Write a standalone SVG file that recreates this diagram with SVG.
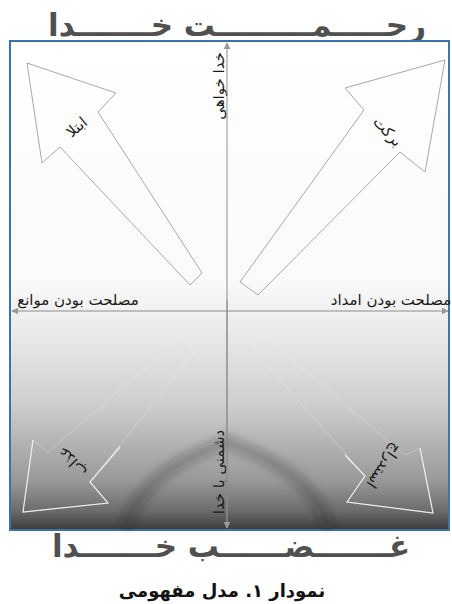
<svg xmlns="http://www.w3.org/2000/svg" width="452" height="604" viewBox="0 0 452 604">
<defs>
<linearGradient id="bg" x1="0" y1="0" x2="0" y2="1">
<stop offset="0" stop-color="#ffffff"/>
<stop offset="0.49" stop-color="#fafafa"/>
<stop offset="0.59" stop-color="#ebebeb"/>
<stop offset="0.74" stop-color="#cfcfcf"/>
<stop offset="0.82" stop-color="#b4b4b4"/>
<stop offset="0.90" stop-color="#989898"/>
<stop offset="0.96" stop-color="#6c6c6c"/>
<stop offset="1" stop-color="#3a3a3a"/>
</linearGradient>
<filter id="blur" x="-20%" y="-20%" width="140%" height="140%"><feGaussianBlur stdDeviation="4"/></filter>
<marker id="ah" viewBox="0 0 10 10" refX="9" refY="5" markerWidth="7" markerHeight="7" orient="auto-start-reverse" markerUnits="userSpaceOnUse">
<path d="M0,0 L10,5 L0,10 z" fill="#9a9a9a"/>
</marker>
</defs>
<style>
.title{font-family:"DejaVu Sans",sans-serif;font-weight:bold;font-size:31px;fill:#505050;text-anchor:middle}
.lbl{font-family:"DejaVu Sans",sans-serif;font-size:15px;fill:#1a1a1a;text-anchor:middle}
.cap{font-family:"DejaVu Sans",sans-serif;font-weight:bold;font-size:18px;fill:#111;text-anchor:middle}
.arrowT{fill:none;stroke:#a8a8a8;stroke-width:1}
.arrowB{fill:none;stroke:#f0f0f0;stroke-width:1;stroke-opacity:0.35}
.headB{fill:none;stroke:#f4f4f4;stroke-width:1.2;stroke-opacity:0.9}
.axis{stroke:#8c8c8c;stroke-width:1;fill:none}
.wm{fill:none;stroke:#202020;stroke-width:12;stroke-opacity:0.28;filter:url(#blur)}
</style>
<text class="title" x="237" y="36">رحـــــمـــــــــت خـــــــدا</text>
<rect id="frame" x="10" y="41" width="439" height="489" fill="url(#bg)" stroke="#3c72a8" stroke-width="2"/>
<path class="wm" d="M125,528 C140,480 185,455 235,440 M329,528 C314,480 269,455 219,440"/>
<g id="nodes">
<g id="arrow-ebtela">
<polygon class="arrowT" points="27,63 116,93 98,112 202,273 190,285 60,147 42,163"/>
<text class="lbl" transform="translate(80,131) rotate(-40)">ابتلا</text>
</g>
<g id="arrow-barakat">
<polygon class="arrowT" points="445,60 345,88 364,110 240,282 258,295 400,152 425,172"/>
<text class="lbl" transform="translate(384,135) rotate(47)">برکت</text>
</g>
<g id="arrow-azab">
<polygon class="arrowB" points="23,512 108,503 90,482 195,352 182,337 153,362 48,452 33,440"/>
<polyline class="headB" points="120,447 90,482 108,503 23,512 33,440"/>
<text class="lbl" transform="translate(76,458) rotate(-134)">عذاب</text>
</g>
<g id="arrow-estedraj">
<polygon class="arrowB" points="433,513 347,502 365,476 252,347 263,333 295,362 405,455 420,448"/>
<polyline class="headB" points="345,455 365,476 347,502 433,513 420,448"/>
<text class="lbl" transform="translate(380,463) rotate(124)">استدراج</text>
</g>
<g id="label-top">
<text class="lbl" transform="translate(224,86) rotate(-90)">خدا خواهی</text>
</g>
<g id="label-bottom">
<text class="lbl" transform="translate(224,472) rotate(-90)">دشمنی با خدا</text>
</g>
<g id="label-left">
<text class="lbl" x="78" y="305">مصلحت بودن موانع</text>
</g>
<g id="label-right">
<text class="lbl" x="391" y="305">مصلحت بودن امداد</text>
</g>
</g>
<g id="connectors">
<line class="axis" x1="227" y1="528" x2="227" y2="43" marker-end="url(#ah)"/>
<line class="axis" x1="227" y1="300" x2="227" y2="528" marker-end="url(#ah)"/>
<line class="axis" x1="227" y1="311" x2="12" y2="311" marker-end="url(#ah)"/>
<line class="axis" x1="227" y1="311" x2="448" y2="311" marker-end="url(#ah)"/>
</g>
<text class="title" x="231" y="557">غـــــــضــــــب خـــــــدا</text>
<text class="cap" x="222" y="597">نمودار ۱. مدل مفهومی</text>
</svg>
